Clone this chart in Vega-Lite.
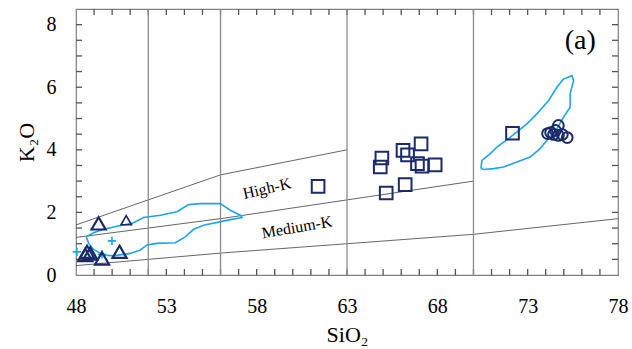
{
  "$schema": "https://vega.github.io/schema/vega-lite/v6.json",
  "width": 542,
  "height": 266,
  "autosize": {"type": "none"},
  "padding": {"left": 76, "top": 9, "right": 14, "bottom": 74},
  "background": "white",
  "config": {
    "font": "Liberation Serif",
    "view": {"stroke": "#7f7f7f", "strokeWidth": 1.2},
    "axis": {"labelFont": "Liberation Serif", "titleFont": "Liberation Serif"}
  },
  "datasets": {
    "bounds": [
      {"line": "A", "ord": 1, "SiO2": 48, "K2O": 1.6},
      {"line": "A", "ord": 2, "SiO2": 56, "K2O": 3.2},
      {"line": "A", "ord": 3, "SiO2": 63, "K2O": 4.0},
      {"line": "B", "ord": 1, "SiO2": 48, "K2O": 1.2},
      {"line": "B", "ord": 2, "SiO2": 52, "K2O": 1.5},
      {"line": "B", "ord": 3, "SiO2": 56, "K2O": 1.8},
      {"line": "B", "ord": 4, "SiO2": 63, "K2O": 2.4},
      {"line": "B", "ord": 5, "SiO2": 70, "K2O": 3.0},
      {"line": "C", "ord": 1, "SiO2": 48, "K2O": 0.3},
      {"line": "C", "ord": 2, "SiO2": 52, "K2O": 0.5},
      {"line": "C", "ord": 3, "SiO2": 56, "K2O": 0.7},
      {"line": "C", "ord": 4, "SiO2": 63, "K2O": 1.0},
      {"line": "C", "ord": 5, "SiO2": 70, "K2O": 1.3},
      {"line": "C", "ord": 6, "SiO2": 78, "K2O": 1.8}
    ],
    "dividers": [{"SiO2": 52}, {"SiO2": 56}, {"SiO2": 63}, {"SiO2": 70}],
    "xticks": [{"v": 49}, {"v": 50}, {"v": 51}, {"v": 52}, {"v": 53}, {"v": 54}, {"v": 55}, {"v": 56}, {"v": 57}, {"v": 58}, {"v": 59}, {"v": 60}, {"v": 61}, {"v": 62}, {"v": 63}, {"v": 64}, {"v": 65}, {"v": 66}, {"v": 67}, {"v": 68}, {"v": 69}, {"v": 70}, {"v": 71}, {"v": 72}, {"v": 73}, {"v": 74}, {"v": 75}, {"v": 76}, {"v": 77}],
    "yticks": [{"v": 0.5}, {"v": 1}, {"v": 1.5}, {"v": 2}, {"v": 2.5}, {"v": 3}, {"v": 3.5}, {"v": 4}, {"v": 4.5}, {"v": 5}, {"v": 5.5}, {"v": 6}, {"v": 6.5}, {"v": 7}, {"v": 7.5}, {"v": 8}],
    "fields": [
      {"f": "P1", "ord": 1, "SiO2": 48.57, "K2O": 1.22},
      {"f": "P1", "ord": 2, "SiO2": 48.97, "K2O": 1.35},
      {"f": "P1", "ord": 3, "SiO2": 49.53, "K2O": 1.46},
      {"f": "P1", "ord": 4, "SiO2": 50.27, "K2O": 1.56},
      {"f": "P1", "ord": 5, "SiO2": 51.10, "K2O": 1.65},
      {"f": "P1", "ord": 6, "SiO2": 51.74, "K2O": 1.84},
      {"f": "P1", "ord": 7, "SiO2": 52.67, "K2O": 1.91},
      {"f": "P1", "ord": 8, "SiO2": 53.59, "K2O": 2.02},
      {"f": "P1", "ord": 9, "SiO2": 54.23, "K2O": 2.25},
      {"f": "P1", "ord": 10, "SiO2": 54.88, "K2O": 2.28},
      {"f": "P1", "ord": 11, "SiO2": 55.99, "K2O": 2.28},
      {"f": "P1", "ord": 12, "SiO2": 56.54, "K2O": 2.07},
      {"f": "P1", "ord": 13, "SiO2": 57.09, "K2O": 1.91},
      {"f": "P1", "ord": 14, "SiO2": 57.19, "K2O": 1.84},
      {"f": "P1", "ord": 15, "SiO2": 56.54, "K2O": 1.77},
      {"f": "P1", "ord": 16, "SiO2": 55.06, "K2O": 1.59},
      {"f": "P1", "ord": 17, "SiO2": 54.51, "K2O": 1.46},
      {"f": "P1", "ord": 18, "SiO2": 54.05, "K2O": 1.22},
      {"f": "P1", "ord": 19, "SiO2": 53.50, "K2O": 1.03},
      {"f": "P1", "ord": 20, "SiO2": 52.48, "K2O": 1.01},
      {"f": "P1", "ord": 21, "SiO2": 51.93, "K2O": 0.96},
      {"f": "P1", "ord": 22, "SiO2": 51.56, "K2O": 0.80},
      {"f": "P1", "ord": 23, "SiO2": 51.00, "K2O": 0.69},
      {"f": "P1", "ord": 24, "SiO2": 50.08, "K2O": 0.61},
      {"f": "P1", "ord": 25, "SiO2": 49.53, "K2O": 0.64},
      {"f": "P1", "ord": 26, "SiO2": 48.97, "K2O": 0.82},
      {"f": "P1", "ord": 27, "SiO2": 48.70, "K2O": 1.01},
      {"f": "P1", "ord": 28, "SiO2": 48.57, "K2O": 1.22},
      {"f": "P2", "ord": 1, "SiO2": 70.41, "K2O": 3.40},
      {"f": "P2", "ord": 2, "SiO2": 70.47, "K2O": 3.66},
      {"f": "P2", "ord": 3, "SiO2": 70.93, "K2O": 3.88},
      {"f": "P2", "ord": 4, "SiO2": 71.30, "K2O": 4.09},
      {"f": "P2", "ord": 5, "SiO2": 72.03, "K2O": 4.40},
      {"f": "P2", "ord": 6, "SiO2": 72.96, "K2O": 4.83},
      {"f": "P2", "ord": 7, "SiO2": 73.51, "K2O": 5.15},
      {"f": "P2", "ord": 8, "SiO2": 74.15, "K2O": 5.57},
      {"f": "P2", "ord": 9, "SiO2": 74.62, "K2O": 6.00},
      {"f": "P2", "ord": 10, "SiO2": 74.98, "K2O": 6.26},
      {"f": "P2", "ord": 11, "SiO2": 75.45, "K2O": 6.37},
      {"f": "P2", "ord": 12, "SiO2": 75.54, "K2O": 6.21},
      {"f": "P2", "ord": 13, "SiO2": 75.35, "K2O": 5.79},
      {"f": "P2", "ord": 14, "SiO2": 75.35, "K2O": 5.36},
      {"f": "P2", "ord": 15, "SiO2": 74.98, "K2O": 5.04},
      {"f": "P2", "ord": 16, "SiO2": 74.62, "K2O": 4.67},
      {"f": "P2", "ord": 17, "SiO2": 74.06, "K2O": 4.30},
      {"f": "P2", "ord": 18, "SiO2": 73.69, "K2O": 4.04},
      {"f": "P2", "ord": 19, "SiO2": 73.14, "K2O": 3.77},
      {"f": "P2", "ord": 20, "SiO2": 72.40, "K2O": 3.61},
      {"f": "P2", "ord": 21, "SiO2": 71.66, "K2O": 3.45},
      {"f": "P2", "ord": 22, "SiO2": 71.11, "K2O": 3.40},
      {"f": "P2", "ord": 23, "SiO2": 70.56, "K2O": 3.37},
      {"f": "P2", "ord": 24, "SiO2": 70.41, "K2O": 3.40}
    ],
    "samples": [
      {"kind": "plus", "SiO2": 48.05, "K2O": 0.74},
      {"kind": "plus", "SiO2": 49.99, "K2O": 1.09},
      {"kind": "plus", "SiO2": 49.44, "K2O": 0.66},
      {"kind": "triangle", "SiO2": 49.25, "K2O": 1.65},
      {"kind": "triangle", "SiO2": 48.61, "K2O": 0.74},
      {"kind": "triangle", "SiO2": 48.79, "K2O": 0.69},
      {"kind": "triangle", "SiO2": 48.51, "K2O": 0.64},
      {"kind": "triangle", "SiO2": 49.44, "K2O": 0.53},
      {"kind": "triangle", "SiO2": 50.41, "K2O": 0.74},
      {"kind": "triangle-s", "SiO2": 50.78, "K2O": 1.75},
      {"kind": "square", "SiO2": 61.4, "K2O": 2.83},
      {"kind": "square", "SiO2": 64.93, "K2O": 3.74},
      {"kind": "square", "SiO2": 64.84, "K2O": 3.45},
      {"kind": "square", "SiO2": 66.1, "K2O": 3.98},
      {"kind": "square", "SiO2": 66.35, "K2O": 3.84},
      {"kind": "square", "SiO2": 67.1, "K2O": 4.19},
      {"kind": "square", "SiO2": 66.9, "K2O": 3.56},
      {"kind": "square", "SiO2": 67.15, "K2O": 3.48},
      {"kind": "square", "SiO2": 67.88, "K2O": 3.52},
      {"kind": "square", "SiO2": 66.22, "K2O": 2.89},
      {"kind": "square", "SiO2": 65.17, "K2O": 2.62},
      {"kind": "square", "SiO2": 72.16, "K2O": 4.53},
      {"kind": "circle", "SiO2": 74.27, "K2O": 4.55},
      {"kind": "circle", "SiO2": 74.43, "K2O": 4.49},
      {"kind": "circle", "SiO2": 74.54, "K2O": 4.62},
      {"kind": "circle", "SiO2": 74.70, "K2O": 4.78},
      {"kind": "circle", "SiO2": 74.70, "K2O": 4.46},
      {"kind": "circle", "SiO2": 74.92, "K2O": 4.49},
      {"kind": "circle", "SiO2": 75.19, "K2O": 4.39},
      {"kind": "circle", "SiO2": 74.10, "K2O": 4.52}
    ],
    "labels": [
      {"name": "High-K", "SiO2": 58.57, "K2O": 2.76},
      {"name": "Medium-K", "SiO2": 60.23, "K2O": 1.52},
      {"name": "(a)", "SiO2": 75.91, "K2O": 7.48}
    ]
  },
  "layer": [
    {
      "data": {"name": "bounds"},
      "mark": {"type": "line", "color": "#555555", "strokeWidth": 0.9},
      "encoding": {
        "x": {
          "field": "SiO2", "type": "quantitative",
          "scale": {"domain": [48, 78], "nice": false, "zero": false},
          "axis": {
            "orient": "bottom",
            "domain": false,
            "values": [48, 53, 58, 63, 68, 73, 78],
            "format": "d",
            "labelFont": "Liberation Serif",
            "labelFontSize": 20,
            "labelColor": "black",
            "labelPadding": 21,
            "labelFlush": false,
            "ticks": false,
            "tickSize": 0,
            "grid": false,
            "title": "SiO₂",
            "titleFont": "Liberation Serif",
            "titleFontSize": 22,
            "titleFontWeight": "normal",
            "titleColor": "black",
            "titlePadding": 8
          }
        },
        "y": {
          "field": "K2O", "type": "quantitative",
          "scale": {"domain": [0, 8.5], "nice": false, "zero": true},
          "axis": {
            "orient": "left",
            "domain": false,
            "values": [0, 2, 4, 6, 8],
            "format": "d",
            "labelFont": "Liberation Serif",
            "labelFontSize": 20,
            "labelColor": "black",
            "labelPadding": 20,
            "labelFlush": false,
            "ticks": false,
            "tickSize": 0,
            "grid": false,
            "title": "K₂O",
            "titleFont": "Liberation Serif",
            "titleFontSize": 22,
            "titleFontWeight": "normal",
            "titleColor": "black",
            "titlePadding": 8
          }
        },
        "detail": {"field": "line"},
        "order": {"field": "ord", "type": "quantitative"}
      }
    },
    {
      "data": {"name": "xticks"},
      "mark": {"type": "tick", "orient": "vertical", "size": 6, "thickness": 1.3, "yOffset": -3, "color": "#555555", "opacity": 1},
      "encoding": {
        "x": {"field": "v", "type": "quantitative"},
        "y": {"datum": 0, "type": "quantitative"}
      }
    },
    {
      "data": {"name": "xticks"},
      "mark": {"type": "tick", "orient": "vertical", "size": 6, "thickness": 1.3, "yOffset": 3, "color": "#555555", "opacity": 1},
      "encoding": {
        "x": {"field": "v", "type": "quantitative"},
        "y": {"datum": 8.5, "type": "quantitative"}
      }
    },
    {
      "data": {"name": "yticks"},
      "mark": {"type": "tick", "orient": "horizontal", "size": 6, "thickness": 1.3, "xOffset": 3, "color": "#555555", "opacity": 1},
      "encoding": {
        "y": {"field": "v", "type": "quantitative"},
        "x": {"datum": 48, "type": "quantitative"}
      }
    },
    {
      "data": {"name": "yticks"},
      "mark": {"type": "tick", "orient": "horizontal", "size": 6, "thickness": 1.3, "xOffset": -3, "color": "#555555", "opacity": 1},
      "encoding": {
        "y": {"field": "v", "type": "quantitative"},
        "x": {"datum": 78, "type": "quantitative"}
      }
    },
    {
      "data": {"name": "dividers"},
      "mark": {"type": "rule", "color": "#8c8c8c", "strokeWidth": 1.3},
      "encoding": {
        "x": {"field": "SiO2", "type": "quantitative"}
      }
    },
    {
      "data": {"name": "fields"},
      "mark": {"type": "line", "color": "#1CA6E9", "strokeWidth": 1.6},
      "encoding": {
        "x": {"field": "SiO2", "type": "quantitative"},
        "y": {"field": "K2O", "type": "quantitative"},
        "detail": {"field": "f"},
        "order": {"field": "ord", "type": "quantitative"}
      }
    },
    {
      "data": {"name": "samples"},
      "transform": [{"filter": "datum.kind === 'plus'"}],
      "mark": {"type": "point", "shape": "M-1,0L1,0M0,-1L0,1", "size": 70, "filled": false, "color": "#1CA6E9", "strokeWidth": 1.6, "opacity": 1},
      "encoding": {
        "x": {"field": "SiO2", "type": "quantitative"},
        "y": {"field": "K2O", "type": "quantitative"}
      }
    },
    {
      "data": {"name": "samples"},
      "transform": [{"filter": "datum.kind === 'triangle'"}],
      "mark": {"type": "point", "shape": "triangle-up", "size": 200, "filled": false, "color": "#1B2A6B", "strokeWidth": 2.2, "opacity": 1},
      "encoding": {
        "x": {"field": "SiO2", "type": "quantitative"},
        "y": {"field": "K2O", "type": "quantitative"}
      }
    },
    {
      "data": {"name": "samples"},
      "transform": [{"filter": "datum.kind === 'triangle-s'"}],
      "mark": {"type": "point", "shape": "triangle-up", "size": 110, "filled": false, "color": "#1B2A6B", "strokeWidth": 1.6, "opacity": 1},
      "encoding": {
        "x": {"field": "SiO2", "type": "quantitative"},
        "y": {"field": "K2O", "type": "quantitative"}
      }
    },
    {
      "data": {"name": "samples"},
      "transform": [{"filter": "datum.kind === 'square'"}],
      "mark": {"type": "point", "shape": "square", "size": 160, "filled": false, "color": "#1B2A6B", "strokeWidth": 2, "opacity": 1},
      "encoding": {
        "x": {"field": "SiO2", "type": "quantitative"},
        "y": {"field": "K2O", "type": "quantitative"}
      }
    },
    {
      "data": {"name": "samples"},
      "transform": [{"filter": "datum.kind === 'circle'"}],
      "mark": {"type": "point", "shape": "circle", "size": 115, "filled": false, "color": "#1B2A6B", "strokeWidth": 2, "opacity": 1},
      "encoding": {
        "x": {"field": "SiO2", "type": "quantitative"},
        "y": {"field": "K2O", "type": "quantitative"}
      }
    },
    {
      "data": {"name": "labels"},
      "transform": [{"filter": "datum.name === 'High-K'"}],
      "mark": {"type": "text", "font": "Liberation Serif", "fontSize": 16, "angle": 347, "color": "black"},
      "encoding": {
        "x": {"field": "SiO2", "type": "quantitative"},
        "y": {"field": "K2O", "type": "quantitative"},
        "text": {"field": "name"}
      }
    },
    {
      "data": {"name": "labels"},
      "transform": [{"filter": "datum.name === 'Medium-K'"}],
      "mark": {"type": "text", "font": "Liberation Serif", "fontSize": 16, "angle": 350, "color": "black"},
      "encoding": {
        "x": {"field": "SiO2", "type": "quantitative"},
        "y": {"field": "K2O", "type": "quantitative"},
        "text": {"field": "name"}
      }
    },
    {
      "data": {"name": "labels"},
      "transform": [{"filter": "datum.name === '(a)'"}],
      "mark": {"type": "text", "font": "Liberation Serif", "fontSize": 28, "color": "black"},
      "encoding": {
        "x": {"field": "SiO2", "type": "quantitative"},
        "y": {"field": "K2O", "type": "quantitative"},
        "text": {"field": "name"}
      }
    }
  ]
}
